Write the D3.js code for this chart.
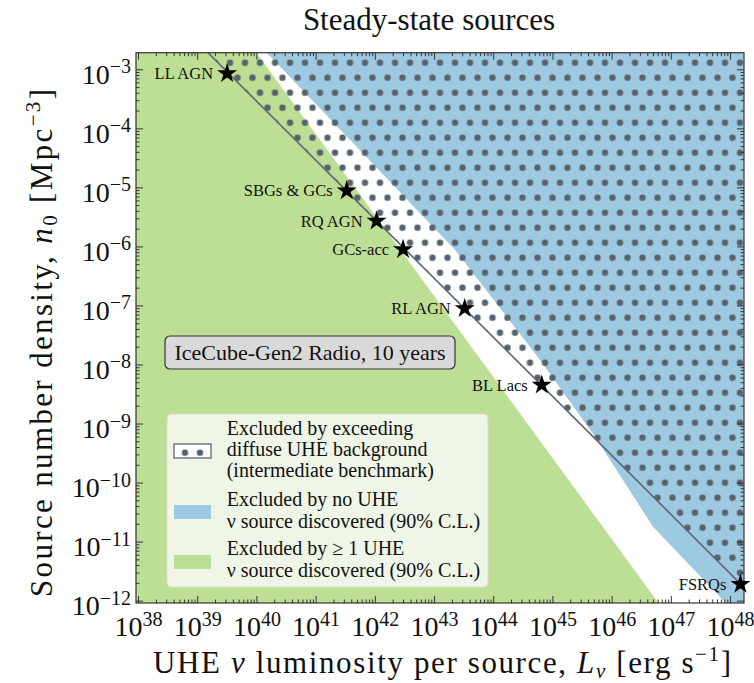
<!DOCTYPE html>
<html>
<head>
<meta charset="utf-8">
<script src="https://cdn.jsdelivr.net/npm/d3@7"></script>
<style>
  body { margin: 0; background: #fff; }
  text { font-family: "Liberation Serif", "DejaVu Serif", serif; fill: #111; }
</style>
</head>
<body>
<svg id="chart" width="754" height="683"></svg>
<script>
// ---- data ----
const sourceNames = ["LL AGN", "SBGs & GCs", "RQ AGN", "GCs-acc", "RL AGN", "BL Lacs", "FSRQs"];
const sourceL = [3.2e39, 3.35e41, 1.07e42, 3.0e42, 3.3e43, 6.6e44, 1.5e48];   // erg/s
const sourceN = [8.5e-4, 8.8e-6, 2.7e-6, 8.9e-7, 8.9e-8, 4.5e-9, 1.9e-12];  // Mpc^-3

// diffuse UHE background limit (dotted region lies above it)
const diffuseL = [1e39, 1e49];
const diffuseN = [2.9e-3, 2.9e-13];

// >= 1 source discovered (green, lower left of this edge)
const greenEdgeL = [1.0e40, 6.2e46];
const greenEdgeN = [1.9e-3, 9.1e-13];

// no source discovered (blue, upper right of this edge)
const blueEdgeL = [1.5e40, 2.27e43, 6.18e44, 5.25e45, 5.0e46, 8.5e47];
const blueEdgeN = [1.9e-3, 8.7e-7, 1.19e-8, 5.98e-10, 1.79e-11, 9.1e-13];

const xTickExp = [38, 39, 40, 41, 42, 43, 44, 45, 46, 47, 48];
const yTickExp = [-12, -11, -10, -9, -8, -7, -6, -5, -4, -3];

const legendLabels = [
  ["Excluded by exceeding", "diffuse UHE background", "(intermediate benchmark)"],
  ["Excluded by no UHE", "\u03bd source discovered (90% C.L.)"],
  ["Excluded by \u2265 1 UHE", "\u03bd source discovered (90% C.L.)"]
];

// ---- layout ----
const plot = { left: 136, top: 52.7, right: 744, bottom: 603 };
const green = "#bddf95", blue = "#9ecae1", dotColor = "#56626c", lineColor = "#5b6670";

const svg = d3.select("#chart");

const x = d3.scaleLog()
  .domain([Math.pow(10, 37.966), Math.pow(10, 48.236)])
  .range([plot.left, plot.right]);
const y = d3.scaleLog()
  .domain([Math.pow(10, -12.04), Math.pow(10, -2.719)])
  .range([plot.bottom, plot.top]);

const [xMin, xMax] = x.domain();
const [yMin, yMax] = y.domain();

const defs = svg.append("defs");
defs.append("clipPath").attr("id", "clip")
  .append("rect")
  .attr("x", plot.left).attr("y", plot.top)
  .attr("width", plot.right - plot.left).attr("height", plot.bottom - plot.top);

// dot hatch, fixed to the page like matplotlib hatching
const pat = defs.append("pattern").attr("id", "dots")
  .attr("patternUnits", "userSpaceOnUse")
  .attr("x", -2.5).attr("y", -12.3).attr("width", 15).attr("height", 30);
[[7.5, 15], [0, 0], [15, 0], [0, 30], [15, 30]].forEach(([cx, cy]) => {
  pat.append("circle").attr("cx", cx).attr("cy", cy).attr("r", 3.2).attr("fill", dotColor);
});

const area = d3.line().x(d => x(d[0])).y(d => y(d[1]));
const g = svg.append("g").attr("clip-path", "url(#clip)");

// green region
const greenPts = [[xMin, yMax]]
  .concat(greenEdgeL.map((l, i) => [l, greenEdgeN[i]]))
  .concat([[xMin, yMin]]);
g.append("path").attr("d", area(greenPts) + "Z").attr("fill", green);

// blue region
const bluePts = blueEdgeL.map((l, i) => [l, blueEdgeN[i]])
  .concat([[xMax, yMin], [xMax, yMax]]);
g.append("path").attr("d", area(bluePts) + "Z").attr("fill", blue);

// dotted region above the diffuse limit
const diffPts = diffuseL.map((l, i) => [l, diffuseN[i]]).concat([[diffuseL[1], diffuseN[0]]]);
g.append("path").attr("d", area(diffPts) + "Z").attr("fill", "url(#dots)");

// diffuse limit line
g.append("path")
  .attr("d", area(diffuseL.map((l, i) => [l, diffuseN[i]])))
  .attr("fill", "none").attr("stroke", lineColor).attr("stroke-width", 1.6);

// ---- axes (ticks inward on all sides) ----
const xMajor = xTickExp.map(e => Math.pow(10, e));
const yMajor = yTickExp.map(e => Math.pow(10, e));
const minorOf = (lo, hi) => {
  const out = [];
  for (let e = Math.floor(Math.log10(lo)); e <= Math.ceil(Math.log10(hi)); e++) {
    for (let k = 2; k <= 9; k++) {
      const v = k * Math.pow(10, e);
      if (v > lo && v < hi) out.push(v);
    }
  }
  return out;
};
const xMinor = minorOf(xMin, xMax);
const yMinor = minorOf(yMin, yMax);

function addAxis(axisFn, scale, values, size, transform, fmt) {
  const a = svg.append("g").attr("transform", transform)
    .call(axisFn(scale).tickValues(values).tickSizeInner(-size).tickSizeOuter(0).tickFormat(fmt || (() => "")));
  a.select(".domain").remove();
  a.selectAll(".tick line").attr("stroke", "#333");
  return a;
}

const xb = addAxis(d3.axisBottom, x, xMajor, 7, `translate(0,${plot.bottom})`, d => d);
addAxis(d3.axisBottom, x, xMinor, 3.5, `translate(0,${plot.bottom})`);
addAxis(d3.axisTop, x, xMajor, 7, `translate(0,${plot.top})`);
addAxis(d3.axisTop, x, xMinor, 3.5, `translate(0,${plot.top})`);
const yl = addAxis(d3.axisLeft, y, yMajor, 7, `translate(${plot.left},0)`, d => d);
addAxis(d3.axisLeft, y, yMinor, 3.5, `translate(${plot.left},0)`);
addAxis(d3.axisRight, y, yMajor, 7, `translate(${plot.right},0)`);
addAxis(d3.axisRight, y, yMinor, 3.5, `translate(${plot.right},0)`);

function powerLabel(text, d) {
  const e = Math.round(Math.log10(d));
  const t = d3.select(text).text(null)
    .attr("font-size", 28).attr("fill", "#111")
    .style("font-family", '"Liberation Serif", serif');
  t.append("tspan").text("10");
  t.append("tspan").attr("dy", -10.5).attr("font-size", 20)
    .text(e < 0 ? "\u2212" + (-e) : String(e));
}
xb.selectAll(".tick text").each(function (d) {
  d3.select(this).attr("y", 33).attr("dy", null).attr("text-anchor", "middle");
  powerLabel(this, d);
});
yl.selectAll(".tick text").each(function (d) {
  d3.select(this).attr("x", -5).attr("dy", null).attr("y", 14).attr("text-anchor", "end");
  powerLabel(this, d);
});

// frame
svg.append("rect")
  .attr("x", plot.left).attr("y", plot.top)
  .attr("width", plot.right - plot.left).attr("height", plot.bottom - plot.top)
  .attr("fill", "none").attr("stroke", "#333").attr("stroke-width", 1.2);

// ---- sources ----
const star = d3.symbol(d3.symbolStar).size(125);
const src = svg.append("g").selectAll("g")
  .data(sourceNames.map((name, i) => ({ name, L: sourceL[i], n: sourceN[i] })))
  .join("g")
  .attr("transform", d => `translate(${x(d.L)},${y(d.n)})`);
src.append("path").attr("d", star).attr("fill", "#000");
src.append("text")
  .attr("x", -14).attr("dy", "0.35em")
  .attr("text-anchor", "end").attr("font-size", 16.5)
  .text(d => d.name);

// ---- info box ----
const box = svg.append("g").attr("transform", "translate(165,336)");
box.append("rect").attr("width", 290).attr("height", 33).attr("rx", 5)
  .attr("fill", "#d9d9d9").attr("stroke", "#333").attr("stroke-width", 1.2);
box.append("text").attr("x", 145).attr("y", 16.5).attr("dy", "0.35em")
  .attr("text-anchor", "middle").attr("font-size", 22)
  .text("IceCube-Gen2 Radio, 10 years");

// ---- legend ----
const leg = svg.append("g");
leg.append("rect").attr("x", 167).attr("y", 414).attr("width", 321).attr("height", 173).attr("rx", 4)
  .attr("fill", "#eff6e8").attr("stroke", "#d6ddd0").attr("stroke-width", 1);
const patchY = [444, 505, 555];
const lineY = [[428.3, 449.3, 470], [499.3, 520.7], [548.3, 570]];
const patchFill = ["url(#dots)", blue, green];
patchFill.forEach((f, i) => {
  if (i === 0) {
    leg.append("rect").attr("x", 174).attr("y", patchY[i]).attr("width", 37).attr("height", 14)
      .attr("fill", "#fff");
  }
  leg.append("rect").attr("x", 174).attr("y", patchY[i]).attr("width", 37).attr("height", 14)
    .attr("fill", f).attr("stroke", i === 0 ? lineColor : "none").attr("stroke-width", 1.3);
  legendLabels[i].forEach((s, j) => {
    leg.append("text").attr("x", 226.7).attr("y", lineY[i][j]).attr("dy", "0.35em")
      .attr("font-size", 20).text(s);
  });
});

// ---- titles ----
svg.append("text").attr("x", 429).attr("y", 30).attr("text-anchor", "middle")
  .attr("font-size", 31).text("Steady-state sources");

const xl = svg.append("text").attr("x", 442).attr("y", 673).attr("text-anchor", "middle")
  .attr("font-size", 31).attr("textLength", 578).attr("lengthAdjust", "spacing");
xl.append("tspan").text("UHE ");
xl.append("tspan").attr("font-style", "italic").text("\u03bd");
xl.append("tspan").text(" luminosity per source, ");
xl.append("tspan").attr("font-style", "italic").text("L");
xl.append("tspan").attr("font-style", "italic").attr("font-size", 21).attr("dy", 5).text("\u03bd");
xl.append("tspan").attr("dy", -5).text(" [erg s");
xl.append("tspan").attr("font-size", 21).attr("dy", -12).text("\u22121");
xl.append("tspan").attr("dy", 12).text("]");

const ylab = svg.append("text").attr("transform", "translate(52,343) rotate(-90)")
  .attr("text-anchor", "middle").attr("font-size", 31)
  .attr("textLength", 508).attr("lengthAdjust", "spacing");
ylab.append("tspan").text("Source number density, ");
ylab.append("tspan").attr("font-style", "italic").text("n");
ylab.append("tspan").attr("font-size", 21).attr("dy", 5).text("0");
ylab.append("tspan").attr("dy", -5).text(" [Mpc");
ylab.append("tspan").attr("font-size", 21).attr("dy", -12).text("\u22123");
ylab.append("tspan").attr("dy", 12).text("]");
</script>
</body>
</html>
